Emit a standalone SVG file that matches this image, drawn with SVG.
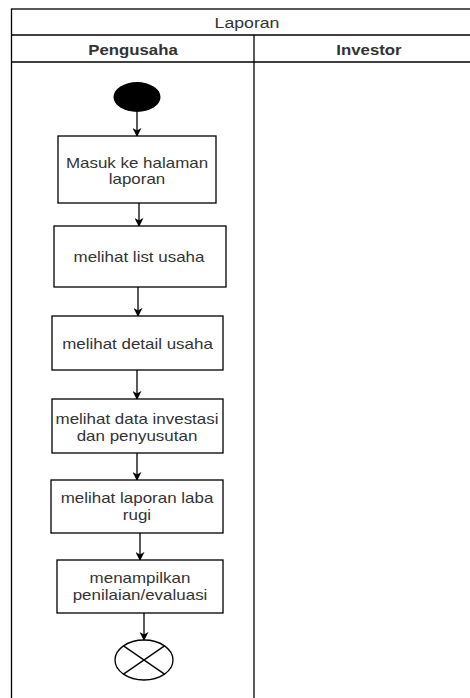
<svg xmlns="http://www.w3.org/2000/svg" width="470" height="698" viewBox="0 0 470 698">
  <style>
    .frame { fill: none; stroke: #000; stroke-width: 1.3; }
    .box { fill: #fff; stroke: #000; stroke-width: 1.3; }
    .lbl { font-family: "Liberation Sans", Arial, sans-serif; font-size: 15px; fill: #333; text-anchor: middle; }
    .hdr { font-weight: bold; }
    .edge { fill: none; stroke: #000; stroke-width: 1.3; marker-end: url(#arrow); }
  </style>
  <defs>
    <marker id="arrow" viewBox="0 0 10 10" refX="9" refY="5" markerWidth="9" markerHeight="9" markerUnits="userSpaceOnUse" orient="auto">
      <path d="M0,0 L10,5 L0,10 L3,5 z" fill="#000"/>
    </marker>
  </defs>
  <rect width="470" height="698" fill="#fff"/>

  <!-- swimlane pool -->
  <g id="pool">
    <rect class="frame" x="11.5" y="9" width="480" height="700" stroke="#444" stroke-width="1.6"/>
    <line class="frame" x1="11.5" y1="35" x2="470" y2="35"/>
    <line class="frame" x1="11.5" y1="62" x2="470" y2="62"/>
    <line class="frame" x1="254" y1="35" x2="254" y2="698"/>
    <text class="lbl" transform="translate(247 0) scale(1.18 1)" x="0" y="28">Laporan</text>
    <text class="lbl hdr" transform="translate(133 0) scale(1.12 1)" x="0" y="55">Pengusaha</text>
    <text class="lbl hdr" transform="translate(369 0) scale(1.12 1)" x="0" y="55">Investor</text>
  </g>

  <!-- connectors -->
  <g id="connectors">
    <line class="edge" x1="137" y1="112" x2="137" y2="136"/>
    <line class="edge" x1="139" y1="203" x2="139" y2="226"/>
    <line class="edge" x1="138" y1="287" x2="138" y2="316"/>
    <line class="edge" x1="137" y1="370" x2="137" y2="399"/>
    <line class="edge" x1="137" y1="453" x2="137" y2="480"/>
    <line class="edge" x1="140" y1="533" x2="140" y2="560"/>
    <line class="edge" x1="144" y1="613" x2="144" y2="640"/>
  </g>

  <g id="start">
    <ellipse cx="137" cy="97" rx="23.5" ry="15" fill="#000"/>
  </g>

  <g id="masuk-laporan">
    <rect class="box" x="58" y="136" width="158" height="67"/>
    <text class="lbl" transform="translate(137 0) scale(1.13 1)"><tspan x="0" y="168.5">Masuk ke halaman</tspan><tspan x="0" y="184.5">laporan</tspan></text>
  </g>

  <g id="list-usaha">
    <rect class="box" x="54" y="226" width="172" height="61"/>
    <text class="lbl" transform="translate(139 0) scale(1.13 1)" x="0" y="262.5">melihat list usaha</text>
  </g>

  <g id="detail-usaha">
    <rect class="box" x="52" y="316" width="171" height="54"/>
    <text class="lbl" transform="translate(137.5 0) scale(1.13 1)" x="0" y="349.5">melihat detail usaha</text>
  </g>

  <g id="data-investasi">
    <rect class="box" x="52" y="399" width="171" height="54"/>
    <text class="lbl" transform="translate(137 0) scale(1.13 1)"><tspan x="0" y="424.5">melihat data investasi</tspan><tspan x="0" y="441">dan penyusutan</tspan></text>
  </g>

  <g id="laba-rugi">
    <rect class="box" x="51" y="480" width="172" height="53"/>
    <text class="lbl" transform="translate(137 0) scale(1.13 1)"><tspan x="0" y="503.5">melihat laporan laba</tspan><tspan x="0" y="520">rugi</tspan></text>
  </g>

  <g id="penilaian">
    <rect class="box" x="57" y="560" width="166" height="53"/>
    <text class="lbl" transform="translate(140 0) scale(1.13 1)"><tspan x="0" y="583.5">menampilkan</tspan><tspan x="0" y="600.5">penilaian/evaluasi</tspan></text>
  </g>

  <g id="end">
    <ellipse cx="144" cy="660" rx="29" ry="20" fill="#fff" stroke="#000" stroke-width="1.3"/>
    <line x1="123.5" y1="645.9" x2="164.5" y2="674.1" stroke="#000" stroke-width="1.3"/>
    <line x1="164.5" y1="645.9" x2="123.5" y2="674.1" stroke="#000" stroke-width="1.3"/>
  </g>
</svg>
